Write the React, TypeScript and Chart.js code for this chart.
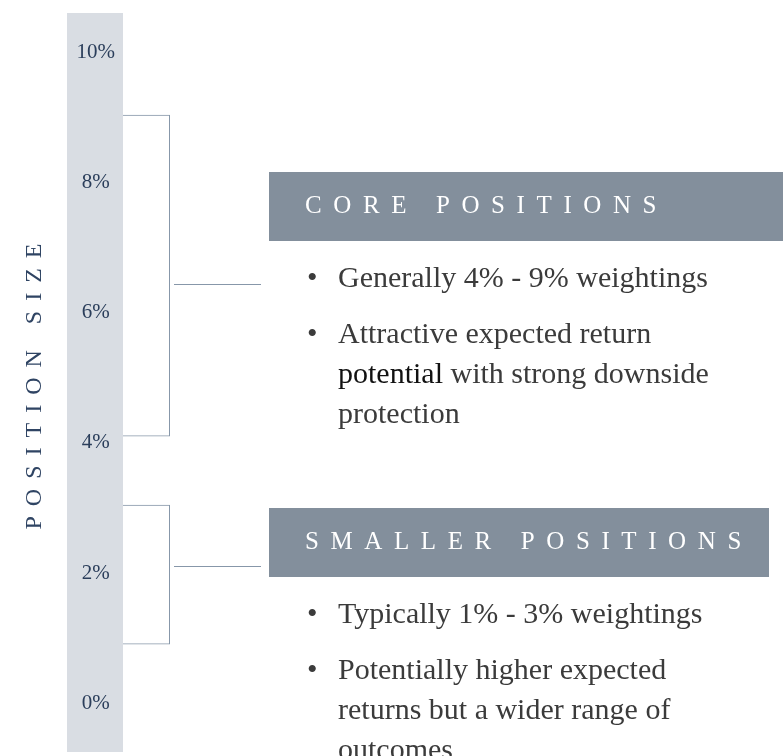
import React, { useEffect, useRef } from "react";
import { Chart, registerables } from "chart.js";

Chart.register(...registerables);

// ---------- data ----------
const tickValues = [0, 2, 4, 6, 8, 10];
const groupTitles = ["CORE POSITIONS", "SMALLER POSITIONS"];
const rangeLow = [4.1, 0.9];
const rangeHigh = [9.05, 3.05];
const connectorLevel = [6.45, 2.1];
const coreBullets = [
  ["Generally 4% - 9% weightings"],
  ["Attractive expected return", "potential with strong downside", "protection"],
];
const smallerBullets = [
  ["Typically 1% - 3% weightings"],
  ["Potentially higher expected", "returns but a wider range of", "outcomes"],
];
const bulletGroups = [coreBullets, smallerBullets];
const emphasisWords = ["potential"];
const axisTitle = "POSITION SIZE";

// ---------- layout / style ----------
const W = 783;
const H = 756;
const SERIF = '"Liberation Serif", "Times New Roman", serif';
const COLUMN_BG = "#d9dde3";
const LINE_COLOR = "#8797a9";
const BOX_COLOR = "#838f9c";
const TICK_COLOR = "#2b3e5b";
const TITLE_COLOR = "#2f4463";
const TEXT_COLOR = "#3b3b3b";
const BOX_LEFT = 269;
const BOX_LAYOUT = [
  { top: 172, bottom: 241, right: 783 },
  { top: 508, bottom: 577, right: 769 },
];
const HEADER_X = 305;
const HEADER_SPACING = 11.6;
const BULLET_X = 307;
const TEXT_X = 338;
const LINE_H = 40;
const BULLET_GAP = 56;

function drawSpaced(ctx: CanvasRenderingContext2D, text: string, x: number, y: number, spacing: number) {
  let cx = x;
  for (const ch of text) {
    ctx.fillText(ch, cx, y);
    cx += ctx.measureText(ch).width + spacing;
  }
}
function spacedWidth(ctx: CanvasRenderingContext2D, text: string, spacing: number) {
  let w = 0;
  for (const ch of text) w += ctx.measureText(ch).width + spacing;
  return w - spacing;
}

function drawLine(ctx: CanvasRenderingContext2D, line: string, x: number, y: number) {
  const word = emphasisWords.find((w) => line.startsWith(w));
  if (word) {
    ctx.fillStyle = "#111111";
    ctx.fillText(word, x, y);
    const wW = ctx.measureText(word).width;
    ctx.fillStyle = TEXT_COLOR;
    ctx.fillText(line.slice(word.length), x + wW, y);
  } else {
    ctx.fillStyle = TEXT_COLOR;
    ctx.fillText(line, x, y);
  }
}

const decorPlugin = {
  id: "decor",
  beforeDraw(chart: any) {
    const { ctx, chartArea, scales } = chart;
    const y = scales.y;
    ctx.save();
    ctx.fillStyle = COLUMN_BG;
    ctx.fillRect(y.left, chartArea.top, y.right - y.left, chartArea.bottom - chartArea.top);
    ctx.restore();
  },
  afterDraw(chart: any) {
    const { ctx, chartArea, scales } = chart;
    const y = scales.y;
    ctx.save();

    // vertical axis title
    ctx.font = `24px ${SERIF}`;
    ctx.fillStyle = TITLE_COLOR;
    ctx.textBaseline = "middle";
    ctx.textAlign = "left";
    const tw = spacedWidth(ctx, axisTitle, 10);
    ctx.save();
    ctx.translate(35, (chartArea.top + chartArea.bottom) / 2 + 4);
    ctx.rotate(-Math.PI / 2);
    drawSpaced(ctx, axisTitle, -tw / 2, 0, 10);
    ctx.restore();

    chart.data.datasets.forEach((ds: any, i: number) => {
      const el = chart.getDatasetMeta(i).data[0];
      const right = el.x + el.width / 2;
      const yy = Math.round(y.getPixelForValue(connectorLevel[i])) + 0.5;
      ctx.strokeStyle = LINE_COLOR;
      ctx.lineWidth = 1;
      ctx.beginPath();
      ctx.moveTo(right + 4, yy);
      ctx.lineTo(BOX_LEFT - 8, yy);
      ctx.stroke();

      const b = BOX_LAYOUT[i];
      ctx.fillStyle = BOX_COLOR;
      ctx.fillRect(BOX_LEFT, b.top, b.right - BOX_LEFT, b.bottom - b.top);

      ctx.font = `25px ${SERIF}`;
      ctx.fillStyle = "#ffffff";
      ctx.textBaseline = "alphabetic";
      drawSpaced(ctx, groupTitles[i], HEADER_X, b.bottom - 28, HEADER_SPACING);

      ctx.font = `30px ${SERIF}`;
      let yb = b.bottom + 46;
      bulletGroups[i].forEach((lines) => {
        ctx.fillStyle = TEXT_COLOR;
        ctx.fillText("\u2022", BULLET_X, yb);
        lines.forEach((line) => {
          drawLine(ctx, line, TEXT_X, yb);
          yb += LINE_H;
        });
        yb += BULLET_GAP - LINE_H;
      });
    });
    ctx.restore();
  },
};

export default function App() {
  const ref = useRef<HTMLCanvasElement | null>(null);
  useEffect(() => {
    if (!ref.current) return;
    const chart = new Chart(ref.current, {
      type: "bar",
      data: {
        labels: ["range"],
        datasets: groupTitles.map((name, i) => ({
          label: name,
          data: [[rangeLow[i], rangeHigh[i]]] as any,
          backgroundColor: "rgba(0,0,0,0)",
          borderColor: LINE_COLOR,
          borderWidth: 1,
          borderSkipped: "left",
          inflateAmount: 0,
          grouped: false,
          barPercentage: 1,
          categoryPercentage: 1,
        })),
      },
      options: {
        animation: false,
        responsive: false,
        devicePixelRatio: 1,
        layout: { padding: { left: 67, top: 13, bottom: 4, right: W - 170 } },
        plugins: { legend: { display: false }, tooltip: { enabled: false } },
        scales: {
          x: { display: false },
          y: {
            min: -0.754,
            max: 10.615,
            afterBuildTicks: (s: any) => {
              s.ticks = tickValues.map((v) => ({ value: v }));
            },
            afterFit: (s: any) => {
              s.width = 56;
              s.paddingTop = 0;
              s.paddingBottom = 0;
            },
            grid: { display: false },
            border: { display: false },
            ticks: {
              crossAlign: "center",
              padding: 0,
              color: TICK_COLOR,
              font: { family: SERIF, size: 21 },
              callback: (v: any) => `${v}%`,
            },
          },
        },
      } as any,
      plugins: [decorPlugin],
    });
    return () => chart.destroy();
  }, []);
  return (
    <div style={{ position: "fixed", left: 0, top: 0, width: W, height: H, background: "#fff" }}>
      <canvas ref={ref} width={W} height={H} style={{ display: "block" }} />
    </div>
  );
}
